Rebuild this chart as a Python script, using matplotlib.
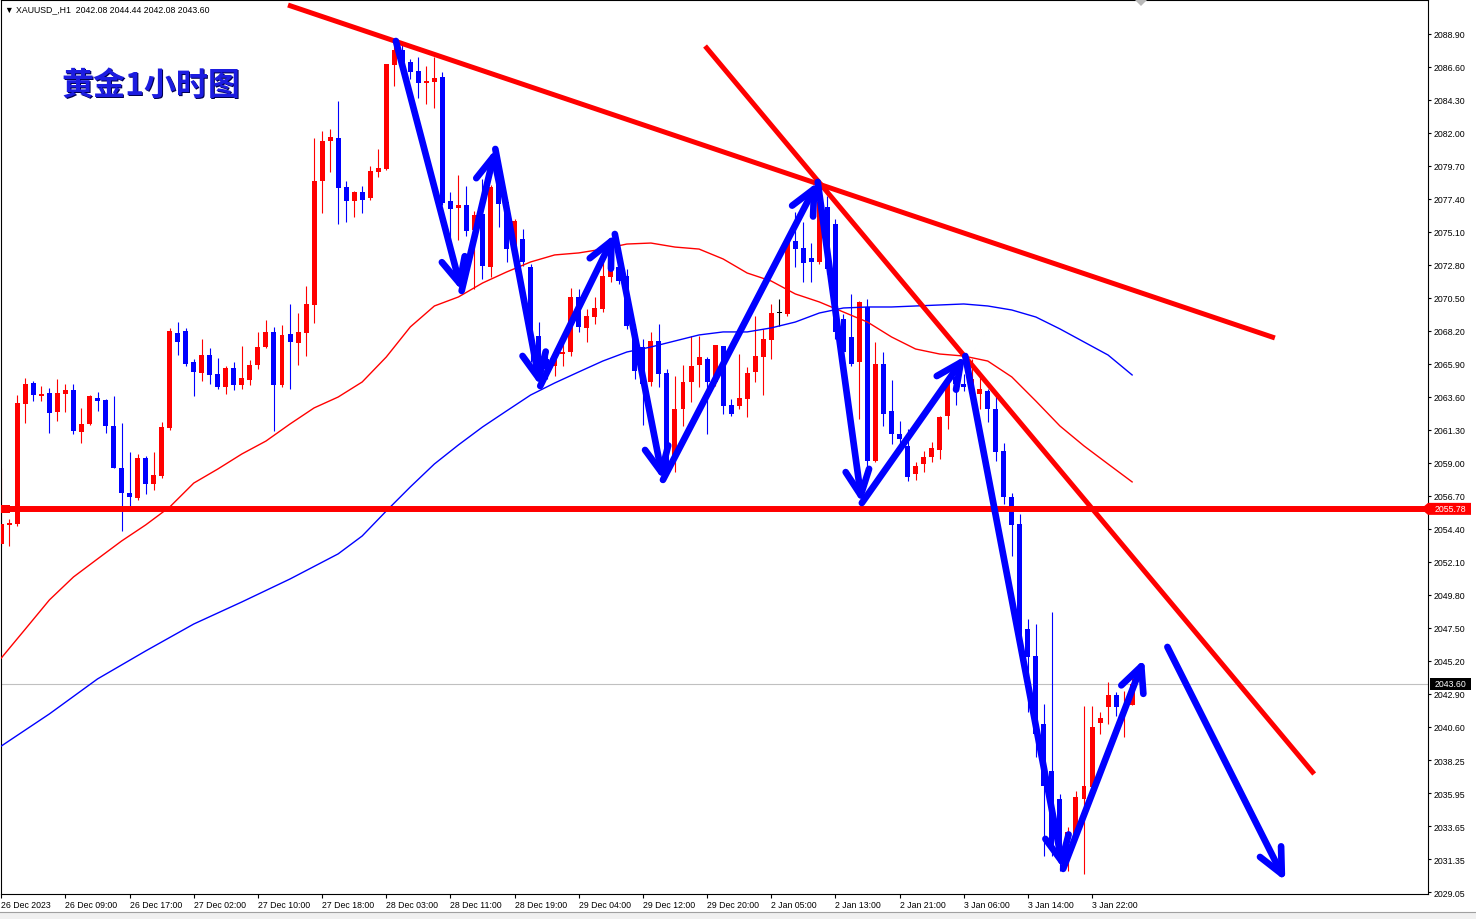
import matplotlib
matplotlib.use("Agg")
import matplotlib.pyplot as plt
import matplotlib.transforms as mtransforms
from matplotlib.patches import Polygon, Rectangle
import numpy as np

# ---------------- data ----------------
symbol_info = "\u25bc XAUUSD_,H1  2042.08 2044.44 2042.08 2043.60"
title_text = "黄金1小时图"

opens = [2053.33, 2054.65, 2054.72, 2063.09, 2064.56, 2063.65, 2063.86, 2062.54, 2063.79, 2064.07,
         2061.14, 2061.70, 2063.51, 2063.37, 2061.56, 2058.63, 2056.89, 2056.54, 2059.33, 2057.51,
         2058.07, 2061.42, 2068.05, 2068.19, 2066.02, 2065.26, 2066.51, 2065.19, 2064.28, 2065.61,
         2064.42, 2064.77, 2065.81, 2067.07, 2068.12, 2064.42, 2067.98, 2067.35, 2068.05, 2070.00,
         2078.65, 2081.44, 2081.65, 2078.23, 2077.25, 2077.88, 2077.46, 2079.27, 2079.48, 2086.74,
         2087.78, 2086.95, 2086.32, 2085.48, 2085.55, 2085.90, 2077.25, 2076.76, 2076.97, 2075.23,
         2076.34, 2072.65, 2078.65, 2077.18, 2073.90, 2074.60, 2072.65, 2067.84, 2066.23, 2065.75,
         2066.58, 2066.72, 2070.56, 2068.40, 2069.16, 2069.72, 2071.95, 2072.65, 2072.02, 2068.33,
         2067.07, 2064.63, 2067.49, 2065.26, 2059.26, 2062.75, 2064.63, 2065.81, 2066.23, 2064.63,
         2067.14, 2063.02, 2062.96, 2063.44, 2065.33, 2066.37, 2067.56, 2069.44, 2069.37, 2074.46,
         2073.97, 2073.28, 2073.00, 2076.83, 2075.65, 2069.02, 2067.77, 2066.02, 2069.86, 2059.12,
         2065.88, 2062.61, 2061.00, 2060.16, 2058.21, 2058.91, 2059.40, 2059.89, 2062.26, 2064.98,
         2064.49, 2064.14, 2063.79, 2064.00, 2062.75, 2059.82, 2056.61, 2054.72, 2047.40, 2045.52,
         2040.78, 2037.50, 2035.55, 2032.55, 2033.11, 2035.55, 2036.39, 2040.85, 2041.96, 2042.80,
         2041.89, 2042.08]

highs = [2058.63, 2055.07, 2063.72, 2064.91, 2064.70, 2064.35, 2064.21, 2064.84, 2064.49, 2064.49,
         2062.81, 2063.72, 2063.93, 2063.44, 2063.65, 2061.77, 2059.75, 2059.61, 2059.47, 2059.75,
         2061.84, 2068.40, 2068.81, 2068.40, 2066.23, 2067.63, 2067.00, 2066.30, 2065.75, 2066.02,
         2067.14, 2066.16, 2068.12, 2068.95, 2068.47, 2068.60, 2070.07, 2069.44, 2071.32, 2081.64,
         2082.13, 2082.27, 2084.23, 2078.65, 2077.95, 2078.30, 2079.69, 2080.88, 2086.81, 2088.20,
         2088.20, 2087.16, 2087.30, 2086.67, 2087.30, 2086.25, 2077.88, 2079.06, 2078.30, 2076.55,
         2078.79, 2078.37, 2078.79, 2077.39, 2076.00, 2075.30, 2072.86, 2068.81, 2066.79, 2067.00,
         2067.42, 2071.18, 2071.11, 2069.72, 2070.56, 2073.00, 2073.00, 2073.90, 2072.51, 2068.67,
         2067.63, 2068.12, 2068.67, 2065.54, 2065.05, 2065.81, 2067.84, 2067.84, 2066.37, 2067.21,
         2067.14, 2063.44, 2066.58, 2065.68, 2069.23, 2068.33, 2070.07, 2070.42, 2074.60, 2076.48,
         2075.79, 2074.32, 2078.09, 2077.60, 2076.00, 2069.37, 2070.77, 2070.28, 2070.42, 2067.42,
         2066.72, 2064.77, 2061.91, 2061.35, 2059.05, 2059.82, 2060.44, 2062.26, 2065.05, 2065.54,
         2065.19, 2066.23, 2065.05, 2064.14, 2063.65, 2060.37, 2056.89, 2055.42, 2048.10, 2047.75,
         2042.17, 2048.59, 2035.90, 2033.60, 2036.11, 2042.03, 2042.03, 2041.61, 2043.71, 2043.01,
         2043.08, 2044.44]

lows = [2053.12, 2053.19, 2054.58, 2061.77, 2063.30, 2063.30, 2061.07, 2061.91, 2062.54, 2061.00,
        2060.37, 2061.63, 2062.61, 2061.07, 2058.63, 2054.24, 2055.98, 2056.40, 2056.82, 2057.10,
        2057.93, 2061.28, 2066.51, 2065.74, 2063.65, 2064.70, 2064.49, 2064.14, 2063.79, 2064.07,
        2064.14, 2064.42, 2065.54, 2067.00, 2061.21, 2064.28, 2064.14, 2065.81, 2066.44, 2068.74,
        2076.41, 2079.27, 2075.65, 2075.79, 2076.14, 2076.41, 2077.32, 2078.93, 2079.41, 2085.27,
        2086.46, 2085.76, 2084.44, 2084.02, 2083.74, 2076.97, 2073.21, 2074.53, 2074.81, 2071.11,
        2071.81, 2071.95, 2075.44, 2073.00, 2072.37, 2072.72, 2066.02, 2065.54, 2064.84, 2065.05,
        2065.75, 2066.44, 2068.12, 2067.42, 2068.67, 2069.51, 2071.60, 2071.46, 2068.33, 2064.84,
        2061.63, 2064.35, 2064.28, 2058.35, 2058.35, 2061.56, 2063.23, 2064.28, 2061.00, 2064.35,
        2062.40, 2062.26, 2062.75, 2062.19, 2064.63, 2063.72, 2066.23, 2068.53, 2069.23, 2072.65,
        2071.60, 2071.60, 2072.86, 2072.16, 2067.63, 2066.23, 2065.75, 2062.05, 2058.00, 2059.05,
        2061.56, 2060.30, 2060.30, 2057.72, 2057.79, 2058.35, 2059.05, 2059.26, 2061.35, 2063.02,
        2064.00, 2063.58, 2062.75, 2061.84, 2059.12, 2056.12, 2052.50, 2046.01, 2041.61, 2038.48,
        2031.57, 2031.57, 2030.53, 2030.53, 2032.62, 2030.32, 2036.25, 2040.08, 2040.78, 2041.33,
        2039.87, 2042.08]

closes = [2054.72, 2054.79, 2063.16, 2064.49, 2063.72, 2063.79, 2062.47, 2063.86, 2064.07, 2061.21,
          2061.70, 2063.65, 2063.30, 2061.56, 2058.63, 2056.89, 2056.61, 2059.33, 2057.51, 2058.14,
          2061.49, 2068.19, 2067.42, 2065.88, 2065.33, 2066.51, 2065.12, 2064.28, 2065.61, 2064.42,
          2064.91, 2065.81, 2067.07, 2068.12, 2064.42, 2067.91, 2067.42, 2068.12, 2070.07, 2078.65,
          2081.44, 2081.72, 2078.16, 2077.25, 2077.88, 2077.32, 2079.34, 2079.55, 2086.81, 2087.78,
          2086.95, 2086.25, 2085.48, 2085.62, 2085.83, 2077.11, 2076.69, 2076.97, 2075.16, 2076.27,
          2072.72, 2078.23, 2077.04, 2073.90, 2075.86, 2073.00, 2067.84, 2066.02, 2065.54, 2066.44,
          2066.72, 2070.56, 2068.47, 2069.23, 2069.79, 2072.02, 2072.58, 2071.67, 2068.54, 2065.40,
          2064.49, 2067.49, 2065.19, 2058.56, 2062.75, 2064.63, 2065.75, 2066.37, 2064.63, 2067.21,
          2062.96, 2062.40, 2063.51, 2065.26, 2066.44, 2067.63, 2069.44, 2069.44, 2074.46, 2073.90,
          2072.93, 2073.00, 2077.18, 2072.51, 2068.12, 2066.72, 2065.88, 2070.21, 2059.12, 2065.88,
          2062.40, 2061.00, 2060.65, 2058.00, 2058.77, 2059.40, 2060.03, 2062.19, 2064.84, 2064.49,
          2064.28, 2064.84, 2064.14, 2062.75, 2059.75, 2056.61, 2054.65, 2046.71, 2045.45, 2040.08,
          2036.46, 2032.27, 2032.06, 2033.25, 2035.69, 2036.46, 2040.57, 2041.19, 2042.80, 2041.96,
          2041.96, 2043.60]

date_tick_bars = [0, 8, 16, 24, 32, 40, 48, 56, 64, 72, 80, 88, 96, 104, 112, 120, 128, 136]
date_tick_labels = ["26 Dec 2023", "26 Dec 09:00", "26 Dec 17:00", "27 Dec 02:00", "27 Dec 10:00",
                    "27 Dec 18:00", "28 Dec 03:00", "28 Dec 11:00", "28 Dec 19:00", "29 Dec 04:00",
                    "29 Dec 12:00", "29 Dec 20:00", "2 Jan 05:00", "2 Jan 13:00", "2 Jan 21:00",
                    "3 Jan 06:00", "3 Jan 14:00", "3 Jan 22:00"]

price_tick_labels = ["2088.90", "2086.60", "2084.30", "2082.00", "2079.70", "2077.40", "2075.10",
                     "2072.80", "2070.50", "2068.20", "2065.90", "2063.60", "2061.30", "2059.00",
                     "2056.70", "2054.40", "2052.10", "2049.80", "2047.50", "2045.20", "2042.90",
                     "2040.60", "2038.25", "2035.95", "2033.65", "2031.35", "2029.05"]
price_ticks = [float(s) for s in price_tick_labels]

ma_red_bars = [0, 3, 6, 9, 12, 15, 18, 21, 24, 27, 30, 33, 36, 39, 42, 45, 48, 51, 54, 57, 60, 63,
               66, 69, 72, 75, 78, 81, 84, 87, 90, 93, 96, 99, 102, 105, 108, 111, 114, 117, 120,
               123, 126, 129, 132, 135, 138, 141]
ma_red_vals = [2045.38, 2047.40, 2049.43, 2051.03, 2052.29, 2053.54, 2054.66, 2055.91, 2057.58,
               2058.56, 2059.61, 2060.51, 2061.70, 2062.82, 2063.58, 2064.63, 2066.37, 2068.47,
               2069.93, 2070.56, 2071.53, 2072.30, 2073.00, 2073.49, 2073.63, 2073.90, 2074.25,
               2074.32, 2074.04, 2073.90, 2073.21, 2072.23, 2071.67, 2070.77, 2070.21, 2069.51,
               2068.81, 2067.77, 2066.93, 2066.58, 2066.44, 2066.09, 2064.98, 2063.30, 2061.56,
               2060.17, 2058.91, 2057.66]

ma_blue_bars = [0, 6, 12, 18, 24, 30, 36, 42, 45, 48, 51, 54, 57, 60, 63, 66, 69, 72, 75, 78, 81,
                84, 87, 90, 93, 96, 99, 102, 105, 108, 111, 114, 117, 120, 123, 126, 129, 132,
                135, 138, 141]
ma_blue_vals = [2039.24, 2041.48, 2043.92, 2045.87, 2047.75, 2049.29, 2050.89, 2052.64, 2053.89,
                2055.63, 2057.31, 2058.91, 2060.24, 2061.49, 2062.61, 2063.72, 2064.56, 2065.33,
                2066.09, 2066.72, 2067.07, 2067.49, 2067.91, 2068.12, 2068.12, 2068.40, 2068.81,
                2069.44, 2069.79, 2069.86, 2069.86, 2069.93, 2070.00, 2070.07, 2069.93, 2069.65,
                2069.16, 2068.33, 2067.42, 2066.51, 2065.12]

support_level = 2055.78
last_price = 2043.60

trend1_bars = [35.75, 158.8]
trend1_prices = [2090.92, 2067.70]
trend2_bars = [87.75, 163.7]
trend2_prices = [2088.06, 2037.29]

wave_bars = [49.2, 57.4, 61.6, 67.2, 76.5, 82.5, 101.8, 107.3, 120.2, 132.4, 142.5]
wave_prices = [2088.41, 2070.98, 2080.88, 2064.35, 2074.95, 2057.80, 2078.58, 2056.19,
               2066.44, 2030.67, 2045.31]
forecast_bars = [145.4, 160.1]
forecast_prices = [2046.15, 2029.83]

# ---------------- figure ----------------
W, H = 1476, 920
fig = plt.figure(figsize=(W / 100, H / 100), dpi=100)
fig.patch.set_facecolor("white")
ax = fig.add_axes([1 / W, 25 / H, 1427 / W, 894 / H])
ax.set_facecolor("white")

px_per_bar = 8.02
ax.set_xlim(-0.037, -0.037 + 1427 / px_per_bar)
ax.set_ylim(2028.92, 2091.27)

LBL_FONT = ["Liberation Sans", "DejaVu Sans"]

o = np.array(opens); h = np.array(highs); l = np.array(lows); c = np.array(closes)
x = np.arange(len(o))
cols = np.where(c > o, "#ff0000", np.where(c < o, "#0000ff", "#000000"))

ax.axhline(last_price, color="#c0c0c0", lw=0.8, zorder=1)

ax.vlines(x, l, h, colors=cols, lw=0.8, zorder=2)
body_bottom = np.minimum(o, c)
body_h = np.maximum(np.abs(c - o), 0.07)
ax.bar(x, body_h, bottom=body_bottom, width=0.62, color=cols, lw=0, zorder=3)

ax.plot(ma_red_bars, ma_red_vals, color="#ff0000", lw=1.0, zorder=4)
ax.plot(ma_blue_bars, ma_blue_vals, color="#0000ff", lw=1.0, zorder=4)

ax.axhline(support_level, color="#ff0000", lw=4.3, zorder=5)
ax.plot(trend1_bars, trend1_prices, color="#ff0000", lw=3.6, zorder=5, solid_capstyle="butt")
ax.plot(trend2_bars, trend2_prices, color="#ff0000", lw=3.6, zorder=5, solid_capstyle="butt")

yax = ax.get_yaxis_transform()
ax.add_patch(Rectangle((0, support_level - 0.3), 9 / 1427, 0.6, transform=yax,
                       facecolor="#ff0000", edgecolor="none", zorder=6, clip_on=False))

arrow_kw = dict(arrowstyle="->,head_length=1.8,head_width=0.85", lw=4.8, color="#0000ff",
                shrinkA=0, shrinkB=0, joinstyle="round", capstyle="round")
for i in range(len(wave_bars) - 1):
    ax.annotate("", xy=(wave_bars[i + 1], wave_prices[i + 1]),
                xytext=(wave_bars[i], wave_prices[i]), arrowprops=arrow_kw, zorder=7)
ax.annotate("", xy=(forecast_bars[1], forecast_prices[1]),
            xytext=(forecast_bars[0], forecast_prices[0]), arrowprops=arrow_kw, zorder=7)

# axes styling
for sp in ax.spines.values():
    sp.set_color("black")
    sp.set_linewidth(0.8)
ax.yaxis.tick_right()
ax.set_yticks(price_ticks)
ax.set_yticklabels(price_tick_labels, family=LBL_FONT)
ax.tick_params(axis="y", length=2.5, pad=1.5, labelsize=6.3, width=0.8)
ax.set_xticks(date_tick_bars)
ax.set_xticklabels(date_tick_labels, ha="left", family=LBL_FONT)
ax.tick_params(axis="x", length=3, pad=1.6, labelsize=6.3, width=0.8)

# price labels on the right
hh = 6 * 62.35 / 894
x0 = 1.0
x1 = 1.0 + 43 / 1427
ax.add_patch(Polygon([[x0 - 7 / 1427, support_level], [x0, support_level + hh],
                      [x1, support_level + hh], [x1, support_level - hh],
                      [x0, support_level - hh]], closed=True, transform=yax,
                     facecolor="#ff0000", edgecolor="none", clip_on=False, zorder=8))
ax.text((x0 + 2 / 1427 + x1) / 2, support_level, f"{support_level:.2f}", transform=yax,
        ha="center", va="center", color="white", fontsize=6.3, family=LBL_FONT, zorder=9,
        clip_on=False)
ax.add_patch(Rectangle((x0 + 2 / 1427, last_price - hh), x1 - x0 - 2 / 1427, 2 * hh,
                       transform=yax, facecolor="black", edgecolor="none", clip_on=False,
                       zorder=8))
ax.text((x0 + 2 / 1427 + x1) / 2, last_price, f"{last_price:.2f}", transform=yax,
        ha="center", va="center", color="white", fontsize=6.3, family=LBL_FONT, zorder=9,
        clip_on=False)

# texts
fig.text(5 / W, 1 - 9.5 / H, symbol_info, ha="left", va="center", fontsize=6.3,
         family=LBL_FONT)
CJK = ["Noto Sans CJK SC", "DejaVu Sans"]
shadow = mtransforms.offset_copy(fig.transFigure, fig=fig, x=1.3, y=-1.3, units="dots")
fig.text(61 / W, 1 - 86 / H, title_text, transform=shadow, ha="left", va="center",
         fontsize=23, weight="bold", color="#000050", family=CJK)
fig.text(61 / W, 1 - 86 / H, title_text, ha="left", va="center",
         fontsize=23, weight="bold", color="#1c1ce0", family=CJK)

# chart-shift marker and bottom strip
fig.patches.append(Polygon([[1135 / W, 1 - 1 / H], [1147 / W, 1 - 1 / H], [1141 / W, 1 - 7 / H]],
                           closed=True, transform=fig.transFigure, facecolor="#b8b8b8",
                           edgecolor="none"))
fig.patches.append(Rectangle((0, 0), 1, 7 / H, transform=fig.transFigure,
                             facecolor="#f0f0f0", edgecolor="none"))
fig.lines.append(plt.Line2D([0, 1], [7 / H, 7 / H], transform=fig.transFigure,
                            color="#a0a0a0", lw=0.8))

fig.savefig("out.png", dpi=100, facecolor="white")
